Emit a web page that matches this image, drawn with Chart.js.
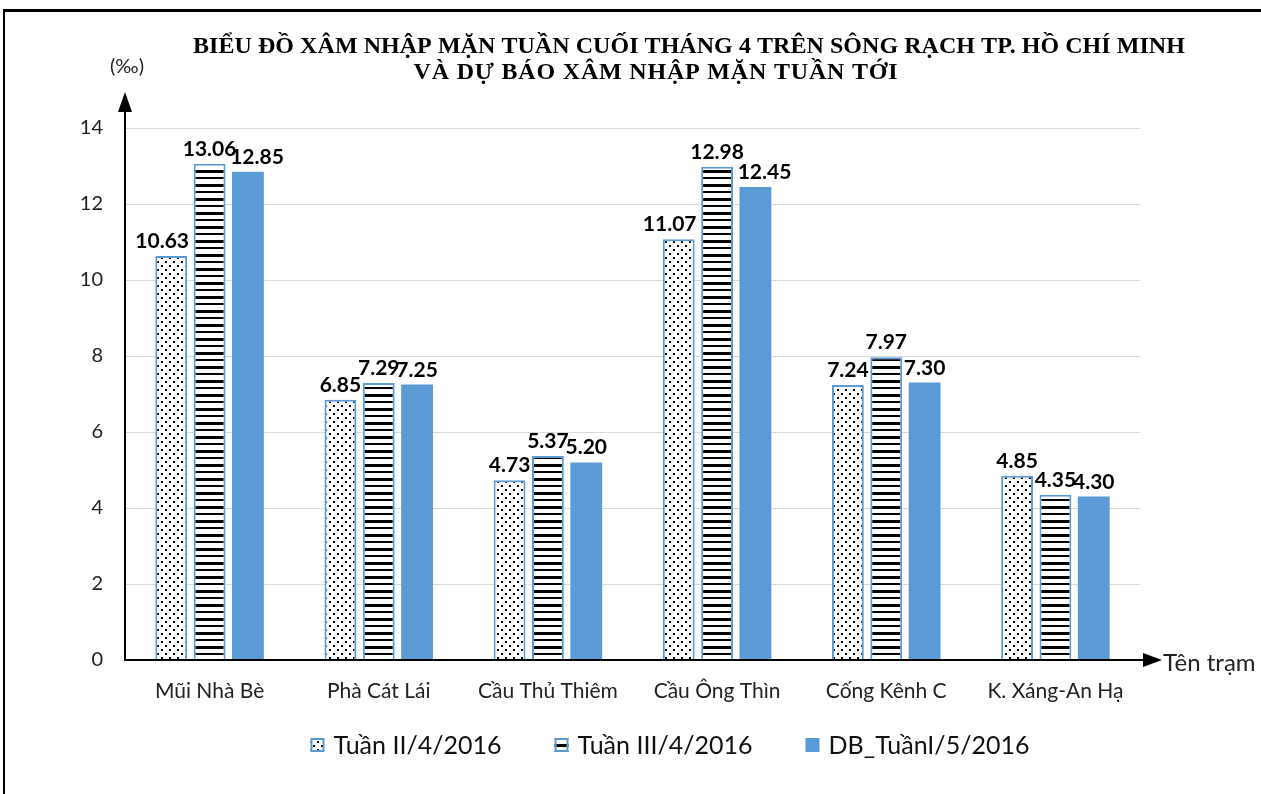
<!DOCTYPE html>
<html>
<head>
<meta charset="utf-8">
<script src="https://cdn.jsdelivr.net/npm/chart.js@4.4.1/dist/chart.umd.min.js"></script>
<style>
  html, body { margin:0; padding:0; background:#fff; }
  #wrap { position:relative; width:1261px; height:794px; overflow:hidden; }
  #frame { position:absolute; left:3px; top:9px; width:1300px; height:800px; border-top:3px solid #000; border-left:2px solid #000; }
  #c { position:absolute; left:0; top:0; }
</style>
</head>
<body>
<div id="wrap">
  <div id="frame"></div>
  <canvas id="c" width="1261" height="794"></canvas>
</div>
<script>
const categories = ['Mũi Nhà Bè', 'Phà Cát Lái', 'Cầu Thủ Thiêm', 'Cầu Ông Thìn', 'Cống Kênh C', 'K. Xáng-An Hạ'];
const seriesNames = ['Tuần II/4/2016', 'Tuần III/4/2016', 'DB_TuầnI/5/2016'];
const tuan2 = [10.63, 6.85, 4.73, 11.07, 7.24, 4.85];
const tuan3 = [13.06, 7.29, 5.37, 12.98, 7.97, 4.35];
const dbTuan1 = [12.85, 7.25, 5.20, 12.45, 7.30, 4.30];
const yTicks = [0, 2, 4, 6, 8, 10, 12, 14];
const titleLines = ['BIỂU ĐỒ XÂM NHẬP MẶN TUẦN CUỐI THÁNG 4 TRÊN SÔNG RẠCH TP. HỒ CHÍ MINH', 'VÀ DỰ BÁO XÂM NHẬP MẶN TUẦN TỚI'];
const yUnit = '(‰)';
const xName = 'Tên trạm';

const BLUE = '#5B9BD5';
const SANS = 'Lato, "Open Sans", sans-serif';
const SERIF = '"Liberation Serif", "Times New Roman", serif';

function makeDots() {
  const c = document.createElement('canvas'); c.width = 8; c.height = 8;
  const g = c.getContext('2d');
  g.fillStyle = '#fff'; g.fillRect(0, 0, 8, 8);
  g.fillStyle = '#000'; g.fillRect(1, 1, 2, 2); g.fillRect(5, 5, 2, 2);
  return g.createPattern(c, 'repeat');
}
function makeLines() {
  const c = document.createElement('canvas'); c.width = 4; c.height = 14;
  const g = c.getContext('2d');
  g.fillStyle = '#fff'; g.fillRect(0, 0, 4, 14);
  g.fillStyle = '#000'; g.fillRect(0, 2, 4, 3); g.fillRect(0, 9, 4, 2);
  return g.createPattern(c, 'repeat');
}

function drawFitted(ctx, text, cx, cy, targetW) {
  const w = ctx.measureText(text).width;
  ctx.save();
  ctx.textAlign = 'center';
  if ('letterSpacing' in ctx) {
    const n = [...text].length;
    ctx.letterSpacing = ((targetW - w) / n).toFixed(2) + 'px';
    ctx.fillText(text, cx, cy);
  } else {
    ctx.translate(cx, cy); ctx.scale(targetW / w, 1);
    ctx.fillText(text, 0, 0);
  }
  ctx.restore();
}

const decor = {
  id: 'decor',
  afterDraw(chart) {
    const { ctx, chartArea: a, scales: { x, y } } = chart;
    const y0 = y.getPixelForValue(0);
    ctx.save();
    // title
    ctx.fillStyle = '#000';
    ctx.font = 'bold 24px ' + SERIF;
    ctx.textBaseline = 'middle';
    drawFitted(ctx, titleLines[0], 689, 47, 992);
    drawFitted(ctx, titleLines[1], 656, 73, 485);
    // axes with arrows
    ctx.strokeStyle = '#000'; ctx.fillStyle = '#000'; ctx.lineWidth = 2;
    ctx.beginPath(); ctx.moveTo(a.left, y0 + 1); ctx.lineTo(a.left, a.top - 20); ctx.stroke();
    ctx.beginPath(); ctx.moveTo(a.left, a.top - 36); ctx.lineTo(a.left - 7, a.top - 16); ctx.lineTo(a.left + 7, a.top - 16); ctx.closePath(); ctx.fill();
    ctx.beginPath(); ctx.moveTo(a.left - 1, y0); ctx.lineTo(a.right + 6, y0); ctx.stroke();
    ctx.beginPath(); ctx.moveTo(a.right + 22, y0); ctx.lineTo(a.right + 3, y0 - 7); ctx.lineTo(a.right + 3, y0 + 7); ctx.closePath(); ctx.fill();
    // axis names
    ctx.fillStyle = '#222';
    ctx.font = '20px ' + SANS;
    ctx.textAlign = 'center'; ctx.textBaseline = 'middle';
    ctx.fillText(yUnit, a.left + 2, a.top - 61);
    ctx.textAlign = 'left';
    ctx.font = '24px ' + SANS;
    ctx.fillText(xName, a.right + 23, y0 + 3);
    // data labels
    ctx.fillStyle = '#000';
    ctx.font = 'bold 21px ' + SANS;
    ctx.textAlign = 'center'; ctx.textBaseline = 'alphabetic';
    const metas = chart.data.datasets.map((ds, i) => chart.getDatasetMeta(i));
    categories.forEach((c, j) => {
      const txt = chart.data.datasets.map(ds => ds.data[j].toFixed(2));
      const wd = txt.map(t => ctx.measureText(t).width);
      const xs = metas.map(m => m.data[j].x);
      const ov0 = (xs[0] + wd[0] / 2) - (xs[1] - wd[1] / 2);
      const ov2 = (xs[1] + wd[1] / 2) - (xs[2] - wd[2] / 2);
      const sh = [-Math.max(0, ov0 - 4) * 0.8, 0, Math.max(0, ov2 - 4) * 0.8];
      metas.forEach((m, i) => {
        const bar = m.data[j];
        ctx.fillText(txt[i], bar.x + sh[i], bar.y - 8);
      });
    });
    // legend
    ctx.font = '25px ' + SANS;
    ctx.textBaseline = 'middle'; ctx.textAlign = 'left';
    const box = 14, gapBox = 9, gapItem = 53, ly = 745;
    const widths = seriesNames.map(n => box + gapBox + ctx.measureText(n).width);
    const total = widths.reduce((s, v) => s + v, 0) + gapItem * (seriesNames.length - 1);
    let lx = 670 - total / 2;
    chart.data.datasets.forEach((ds, i) => {
      ctx.fillStyle = ds.backgroundColor;
      ctx.fillRect(lx, ly - box / 2, box, box);
      if (ds.borderWidth > 0) {
        ctx.strokeStyle = ds.borderColor; ctx.lineWidth = 2;
        ctx.strokeRect(lx + 1, ly - box / 2 + 1, box - 2, box - 2);
      }
      ctx.fillStyle = '#111';
      ctx.fillText(seriesNames[i], lx + box + gapBox, ly + 1);
      lx += widths[i] + gapItem;
    });
    ctx.restore();
  }
};

new Chart(document.getElementById('c'), {
  type: 'bar',
  data: {
    labels: categories,
    datasets: [
      { label: seriesNames[0], data: tuan2, backgroundColor: makeDots(), borderColor: BLUE, borderWidth: 2 },
      { label: seriesNames[1], data: tuan3, backgroundColor: makeLines(), borderColor: BLUE, borderWidth: 2 },
      { label: seriesNames[2], data: dbTuan1, backgroundColor: BLUE, borderColor: BLUE, borderWidth: 0 }
    ]
  },
  options: {
    responsive: false,
    animation: false,
    devicePixelRatio: 1,
    categoryPercentage: 0.68,
    barPercentage: 0.83,
    layout: { padding: { left: 0, right: 121, top: 128, bottom: 0 } },
    plugins: {
      title: { display: false },
      legend: { display: false },
      tooltip: { enabled: false }
    },
    scales: {
      x: {
        grid: { display: false },
        border: { display: false },
        ticks: { color: '#222', font: { family: SANS, size: 21 }, padding: 11 },
        afterFit(s) { s.height = 134; }
      },
      y: {
        min: 0, max: 14,
        afterBuildTicks(s) { s.ticks = yTicks.map(v => ({ value: v })); },
        grid: { color: '#d9d9d9', drawTicks: false, lineWidth: 1 },
        border: { display: false },
        ticks: { color: '#222', font: { family: SANS, size: 20 }, padding: 22 },
        afterFit(s) { s.width = 125; }
      }
    }
  },
  plugins: [decor]
});
</script>
</body>
</html>
